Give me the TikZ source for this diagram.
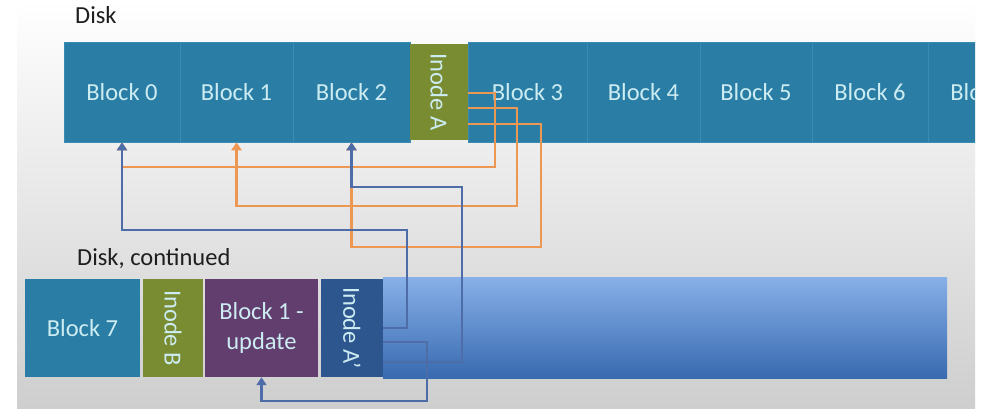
\documentclass[tikz,border=0pt]{standalone}
\usepackage{fontspec}
\setmainfont{Carlito}
\usetikzlibrary{arrows.meta}
\definecolor{diskteal}{RGB}{42,126,165}
\definecolor{divline}{RGB}{58,140,180}
\definecolor{inodegreen}{RGB}{122,140,50}
\definecolor{updpurple}{RGB}{98,62,110}
\definecolor{inodeblue}{RGB}{46,86,142}
\definecolor{bartop}{RGB}{136,176,232}
\definecolor{barbot}{RGB}{56,106,176}
\definecolor{lorange}{RGB}{237,152,82}
\definecolor{lblue}{RGB}{78,108,168}
\definecolor{boxtext}{RGB}{205,236,242}
\definecolor{labeltext}{RGB}{30,30,30}
\definecolor{bgbot}{RGB}{206,206,206}
\definecolor{bgmid}{RGB}{250,250,250}
\begin{document}
\begin{tikzpicture}[x=1pt,y=-1pt,
  txtfont/.style={font=\fontsize{24.5}{30}\selectfont},
  blk/.style={rectangle, fill=diskteal, draw=divline, line width=0.6pt,
    minimum height=100pt, inner sep=0pt, text=boxtext, txtfont},
  lowblk/.style={rectangle, draw=none, minimum height=98pt, inner sep=0pt,
    text=boxtext, txtfont, align=center},
  vtext/.style={rotate=-90, text=boxtext, txtfont, inner sep=0pt},
  disklabel/.style={text=labeltext, txtfont, anchor=base west, inner sep=0pt},
  oline/.style={draw=lorange, line width=2.8pt, -{Triangle[length=8pt,width=10pt]}},
  bline/.style={draw=lblue, line width=2.8pt, -{Triangle[length=8pt,width=10pt]}}]
\useasboundingbox (0,0) rectangle (987,409);
\fill[white] (0,0) rectangle (987,409);
\clip (0,0) rectangle (975,409);
\shade[top color=white, middle color=bgmid, bottom color=bgbot] (17,0) rectangle (975,409);

% labels
\node[disklabel] (disk) at (75,24) {Disk};
\node[disklabel] (diskc) at (77,265) {Disk, continued};

% top disk row
\node[blk, minimum width=116pt] (b0) at (122,92) {Block 0};
\node[blk, minimum width=113pt] (b1) at (236.5,92) {Block 1};
\node[blk, minimum width=117pt] (b2) at (351.5,92) {Block 2};
\node[blk, minimum width=119pt] (b3) at (527.5,92) {Block 3};
\node[blk, minimum width=113pt] (b4) at (643.5,92) {Block 4};
\node[blk, minimum width=112pt] (b5) at (756,92) {Block 5};
\node[blk, minimum width=116pt] (b6) at (870,92) {Block 6};
\node[blk, minimum width=116pt] (b7) at (986,92) {Block 7};
\node[rectangle, fill=inodegreen, minimum width=58pt, minimum height=96pt, inner sep=0pt] (inA) at (439,92) {};
\node[vtext] (inAt) at (inA.center) {Inode A};

% bottom disk row
\node[rectangle, top color=bartop, bottom color=barbot, draw=none, minimum width=564pt, minimum height=101pt, inner sep=0pt] (bar) at (665,327.5) {};
\node[lowblk, fill=diskteal, minimum width=115pt] (b7b) at (82.5,328) {Block 7};
\node[lowblk, fill=inodegreen, minimum width=60pt] (inB) at (173,328) {};
\node[vtext] (inBt) at (inB.center) {Inode B};
\node[lowblk, fill=updpurple, minimum width=113pt] (b1u) at (261.5,328) {Block 1 -\\update};
\node[lowblk, fill=inodeblue, minimum width=62pt] (inAp) at (352,328) {};
\node[vtext] (inApt) at (inAp.center) {Inode A’};

% Inode A pointers (orange)
\draw[oline] (inA.east |- 0,93) -| (495,167) -| (b0.south);
\draw[oline] (inA.east |- 0,108) -| (517,206) -| (b1.south);
\draw[oline] (inA.east |- 0,124) -| (541,247) -| (b2.south);

% Inode A' pointers (blue)
\draw[bline] (inAp.east |- 0,328) -| (407,230) -| (b0.south);
\draw[bline] (inAp.east |- 0,362) -| (462,187) -| (b2.south);
\draw[bline] (inAp.east |- 0,342) -| (427,401) -| (b1u.south);
\end{tikzpicture}
\end{document}
